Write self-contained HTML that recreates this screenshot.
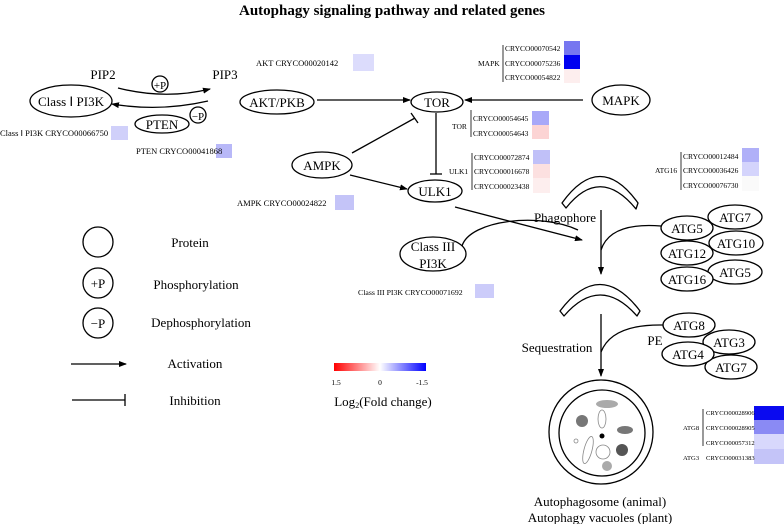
<!DOCTYPE html>
<html><head><meta charset="utf-8"><style>
html,body{margin:0;padding:0;background:#fff;}
svg{display:block;font-family:"Liberation Serif",serif;}
</style></head><body>
<svg width="784" height="524" viewBox="0 0 784 524" xmlns="http://www.w3.org/2000/svg">
<defs>
<marker id="a" markerWidth="8" markerHeight="6" refX="7" refY="3" orient="auto" markerUnits="userSpaceOnUse"><path d="M0,0 L8,3 L0,6 Z" fill="#000"/></marker>
<linearGradient id="g" x1="0" x2="1"><stop offset="0" stop-color="#f00"/><stop offset="0.5" stop-color="#fff"/><stop offset="1" stop-color="#00f"/></linearGradient>
</defs>
<g fill="#000" stroke="none">
<text x="392" y="15" text-anchor="middle" font-size="15" font-weight="bold">Autophagy signaling pathway and related genes</text>
</g>
<g fill="none" stroke="#000" stroke-width="1.3">
<path d="M118,88 Q165,100 210,89" marker-end="url(#a)"/>
<path d="M208,101 Q160,112 112,104" marker-end="url(#a)"/>
<circle cx="160" cy="84" r="8"/>
<circle cx="198" cy="115" r="8"/>
<ellipse cx="71" cy="101" rx="41" ry="16"/>
<ellipse cx="162" cy="124" rx="27" ry="9"/>
<ellipse cx="277" cy="102" rx="37" ry="12"/>
<ellipse cx="437" cy="102" rx="26" ry="10"/>
<ellipse cx="621" cy="100" rx="29" ry="15"/>
<ellipse cx="322" cy="165" rx="30" ry="13"/>
<ellipse cx="435" cy="191" rx="27" ry="11"/>
<ellipse cx="433" cy="254" rx="33" ry="17"/>
<line x1="317" y1="100" x2="410" y2="100" marker-end="url(#a)"/>
<line x1="583" y1="100" x2="465" y2="100" marker-end="url(#a)"/>
<line x1="436" y1="113" x2="436" y2="174"/><line x1="430" y1="174" x2="442" y2="174"/>
<line x1="352" y1="153" x2="415" y2="118"/><line x1="411" y1="113" x2="418" y2="123"/>
<line x1="350" y1="175" x2="407" y2="189" marker-end="url(#a)"/>
<line x1="455" y1="207" x2="582" y2="240" marker-end="url(#a)"/>
<path d="M462,246 C470,220 540,212 578,230"/>
<path d="M562,203 Q600,150 638,203 L636,209 Q600,165 566,208 Z" stroke-linejoin="round"/>
<path d="M560,311 Q600,258 640,311 L637,316 Q600,274 564,316 Z" stroke-linejoin="round"/>
<line x1="601" y1="210" x2="601" y2="274" marker-end="url(#a)"/>
<path d="M661,226 Q610,222 601,250"/>
<line x1="601" y1="314" x2="601" y2="376" marker-end="url(#a)"/>
<path d="M663,325 Q612,324 601,352"/>
<ellipse cx="735" cy="217" rx="27" ry="12" fill="#fff"/>
<ellipse cx="687" cy="228" rx="26" ry="12" fill="#fff"/>
<ellipse cx="736" cy="243" rx="27" ry="12" fill="#fff"/>
<ellipse cx="687" cy="253" rx="26" ry="12" fill="#fff"/>
<ellipse cx="735" cy="272" rx="27" ry="12" fill="#fff"/>
<ellipse cx="687" cy="279" rx="26" ry="12" fill="#fff"/>
<ellipse cx="689" cy="325" rx="26" ry="12" fill="#fff"/>
<ellipse cx="729" cy="342" rx="26" ry="12" fill="#fff"/>
<ellipse cx="731" cy="367" rx="26" ry="12" fill="#fff"/>
<ellipse cx="688" cy="354" rx="26" ry="12" fill="#fff"/>
<circle cx="601" cy="432" r="52"/>
<circle cx="602" cy="433" r="43"/>
<circle cx="98" cy="242" r="15"/>
<circle cx="98" cy="283" r="15"/>
<circle cx="98" cy="323" r="15"/>
<line x1="71" y1="364" x2="126" y2="364" marker-end="url(#a)"/>
<line x1="72" y1="400" x2="125" y2="400"/><line x1="125" y1="394" x2="125" y2="406"/>
<line x1="503" y1="45" x2="503" y2="82" stroke-width="0.8"/>
<line x1="471" y1="110" x2="471" y2="137" stroke-width="0.8"/>
<line x1="472" y1="153" x2="472" y2="190" stroke-width="0.8"/>
<line x1="681" y1="152" x2="681" y2="190" stroke-width="0.8"/>
<line x1="703" y1="409" x2="703" y2="446" stroke-width="0.8"/>
</g>
<ellipse cx="607" cy="404" rx="11" ry="4" fill="#aaa"/>
<circle cx="582" cy="421" r="6" fill="#777"/>
<ellipse cx="602" cy="419" rx="4" ry="9" fill="none" stroke="#888" stroke-width="0.8"/>
<ellipse cx="625" cy="430" rx="8" ry="4" fill="#777"/>
<circle cx="602" cy="436" r="2.5" fill="#000"/>
<circle cx="576" cy="441" r="2" fill="none" stroke="#888" stroke-width="0.8"/>
<ellipse cx="588" cy="450" rx="4" ry="14" transform="rotate(15 588 450)" fill="none" stroke="#888" stroke-width="0.8"/>
<circle cx="603" cy="452" r="7" fill="none" stroke="#888" stroke-width="0.8"/>
<circle cx="622" cy="450" r="6" fill="#555"/>
<circle cx="607" cy="466" r="5" fill="#aaa"/>
<rect x="111" y="126" width="17" height="14" fill="#d0d0fa"/>
<rect x="216" y="144" width="16" height="14" fill="#b8b8f8"/>
<rect x="353" y="54" width="21" height="17" fill="#dcdcfc"/>
<rect x="335" y="195" width="19" height="15" fill="#c4c4f8"/>
<rect x="475" y="284" width="19" height="14" fill="#ccccfa"/>
<rect x="564" y="41" width="16" height="14" fill="#7777f0"/>
<rect x="564" y="55" width="16" height="14" fill="#0000f0"/>
<rect x="564" y="69" width="16" height="14" fill="#fdeeee"/>
<rect x="532" y="111" width="17" height="14" fill="#a8a8f8"/>
<rect x="532" y="125" width="17" height="14" fill="#fcd4d4"/>
<rect x="533" y="150" width="17" height="14" fill="#c0c0f8"/>
<rect x="533" y="164" width="17" height="14" fill="#fce0e0"/>
<rect x="533" y="178" width="17" height="15" fill="#fdeeee"/>
<rect x="742" y="148" width="17" height="14" fill="#b0b0f8"/>
<rect x="742" y="162" width="17" height="14" fill="#d4d4fc"/>
<rect x="742" y="176" width="17" height="15" fill="#fafafa"/>
<rect x="754" y="406" width="30" height="14" fill="#0a0af0"/>
<rect x="754" y="420" width="30" height="14" fill="#8a8af4"/>
<rect x="754" y="434" width="30" height="15" fill="#d8d8fc"/>
<rect x="754" y="449" width="30" height="15" fill="#c4c4f8"/>
<rect x="334" y="363" width="92" height="8" fill="url(#g)"/>
<g fill="#000" font-size="13" text-anchor="middle">
<text x="103" y="79">PIP2</text>
<text x="225" y="79">PIP3</text>
<text x="160" y="89" font-size="11">+P</text>
<text x="198" y="120" font-size="11">−P</text>
<text x="71" y="106">Class Ⅰ PI3K</text>
<text x="162" y="129">PTEN</text>
<text x="277" y="107">AKT/PKB</text>
<text x="437" y="107">TOR</text>
<text x="621" y="105">MAPK</text>
<text x="322" y="170">AMPK</text>
<text x="435" y="196">ULK1</text>
<text x="433" y="251">Class III</text>
<text x="433" y="268">PI3K</text>
<text x="565" y="222">Phagophore</text>
<text x="557" y="352">Sequestration</text>
<text x="687" y="233">ATG5</text>
<text x="735" y="222">ATG7</text>
<text x="736" y="248">ATG10</text>
<text x="687" y="258">ATG12</text>
<text x="735" y="277">ATG5</text>
<text x="687" y="284">ATG16</text>
<text x="689" y="330">ATG8</text>
<text x="729" y="347">ATG3</text>
<text x="688" y="359">ATG4</text>
<text x="731" y="372">ATG7</text>
<text x="655" y="345">PE</text>
<text x="600" y="506">Autophagosome (animal)</text>
<text x="600" y="522">Autophagy vacuoles (plant)</text>
<text x="98" y="288">+P</text>
<text x="98" y="328">−P</text>
<text x="190" y="247">Protein</text>
<text x="196" y="289">Phosphorylation</text>
<text x="201" y="327">Dephosphorylation</text>
<text x="195" y="368">Activation</text>
<text x="195" y="405">Inhibition</text>
<text x="383" y="406">Log<tspan font-size="8" dy="2">2</tspan><tspan dy="-2">(Fold change)</tspan></text>
</g>
<g fill="#000" font-size="8.5" xml:space="preserve">
<text x="0" y="136">Class Ⅰ PI3K  CRYCO00066750</text>
<text x="136" y="154">PTEN  CRYCO00041868</text>
<text x="256" y="66">AKT  CRYCO00020142</text>
<text x="237" y="206">AMPK  CRYCO00024822</text>
<text x="358" y="295" font-size="7.8">Class III PI3K  CRYCO00071692</text>
</g>
<g fill="#000" font-size="7.5">
<text x="336" y="385" text-anchor="middle">1.5</text>
<text x="380" y="385" text-anchor="middle">0</text>
<text x="422" y="385" text-anchor="middle">-1.5</text>
<text x="478" y="66">MAPK</text>
<text x="505" y="51">CRYCO00070542</text>
<text x="505" y="66">CRYCO00075236</text>
<text x="505" y="80">CRYCO00054822</text>
<text x="452" y="129">TOR</text>
<text x="473" y="121">CRYCO00054645</text>
<text x="473" y="136">CRYCO00054643</text>
<text x="449" y="174">ULK1</text>
<text x="474" y="160">CRYCO00072874</text>
<text x="474" y="174">CRYCO00016678</text>
<text x="474" y="189">CRYCO00023438</text>
<text x="655" y="173">ATG16</text>
<text x="683" y="159">CRYCO00012484</text>
<text x="683" y="173">CRYCO00036426</text>
<text x="683" y="188">CRYCO00076730</text>
</g>
<g fill="#000" font-size="6.6">
<text x="683" y="430">ATG8</text>
<text x="706" y="415">CRYCO00028906</text>
<text x="706" y="430">CRYCO00028905</text>
<text x="706" y="445">CRYCO00057312</text>
<text x="683" y="460">ATG3</text>
<text x="706" y="460">CRYCO00031383</text>
</g>
</svg>
</body></html>
